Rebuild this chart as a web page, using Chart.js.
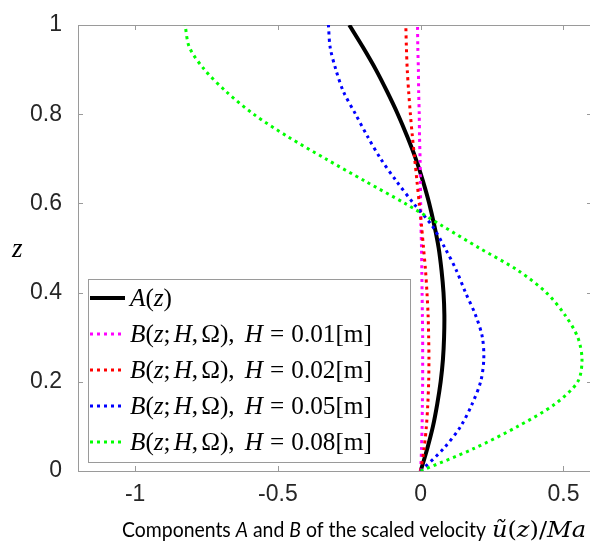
<!DOCTYPE html>
<html>
<head>
<meta charset="utf-8">
<script src="https://cdn.jsdelivr.net/npm/chart.js@4.4.1/dist/chart.umd.min.js"></script>
<style>
    html, body { margin: 0; padding: 0; background: #fff; overflow: hidden; }
    #contenedor { position: relative; width: 592px; height: 542px; }
</style>
</head>
<body>
<div id="contenedor"><canvas id="grafica"></canvas></div>
<script>
// valores, z de 0 a 1
const zVals = [0, 0.05, 0.1, 0.15, 0.2, 0.25, 0.3, 0.35, 0.4, 0.45, 0.5,
    0.55, 0.6, 0.65, 0.7, 0.75, 0.8, 0.85, 0.9, 0.95, 1];

// componente A(z) (linea negra)
const aVals = [0, 0.023, 0.043, 0.058, 0.07, 0.078, 0.082, 0.083, 0.08, 0.073, 0.063,
    0.048, 0.03, 0.008, -0.017, -0.047, -0.08, -0.117, -0.157, -0.202, -0.25];

// componente B para cada H
const bH001 = [0, 0.003, 0.005, 0.006, 0.007, 0.007, 0.007, 0.006, 0.005, 0.004, 0.003,
    0.001, 0, -0.001, -0.002, -0.004, -0.005, -0.007, -0.008, -0.01, -0.011];
const bH002 = [0, 0.012, 0.02, 0.025, 0.028, 0.029, 0.028, 0.026, 0.022, 0.017, 0.01,
    0.003, -0.005, -0.013, -0.021, -0.029, -0.036, -0.042, -0.047, -0.05, -0.052];
const bH005 = [0, 0.08, 0.14, 0.18, 0.21, 0.221, 0.216, 0.192, 0.157, 0.125, 0.085,
    0.04, -0.025, -0.085, -0.14, -0.186, -0.228, -0.27, -0.297, -0.317, -0.323];
const bH008 = [0, 0.185, 0.34, 0.47, 0.55, 0.565, 0.55, 0.505, 0.44, 0.34, 0.205,
    0.075, -0.055, -0.195, -0.333, -0.466, -0.585, -0.68, -0.757, -0.81, -0.825];

const serieLabels = ['A(z)', 'B(z;H,Ω), H = 0.01[m]', 'B(z;H,Ω), H = 0.02[m]',
    'B(z;H,Ω), H = 0.05[m]', 'B(z;H,Ω), H = 0.08[m]'];
const serieColores = ['#000000', '#ff00ff', '#ff0000', '#0000ff', '#00ff00'];

const xTicks = [-1, -0.5, 0, 0.5];
const yTicks = [0, 0.2, 0.4, 0.6, 0.8, 1];

const series = [aVals, bH001, bH002, bH005, bH008];

const colorEje = '#9a9a9a';
const fuenteSerif = '"Liberation Serif", serif';

// dibuja texto estilo LaTeX: letras en cursiva salvo dentro de [ ]
function dibujaLatex(ctx, texto, x, y, size, medir) {
    let dentro = false;
    let x0 = x;
    for (const c of texto) {
        if (c === '[') dentro = true;
        if (c === ' ') { x += 0.28 * size; continue; }
        const cursiva = /[A-Za-z]/.test(c) && !dentro;
        ctx.font = (cursiva ? 'italic ' : '') + size + 'px ' + fuenteSerif;
        if (!medir) ctx.fillText(c, x, y);
        x += ctx.measureText(c).width;
        if (c === ';' || c === ',') x += 0.12 * size;
        if (c === ']') dentro = false;
    }
    return x - x0;
}

// dibuja un trozo de texto (piezas [texto, fuente]) ajustado a un ancho
function dibujaTrozo(ctx, piezas, x, y, ancho) {
    const total = piezas.reduce((t, p) => { ctx.font = p[1]; return t + ctx.measureText(p[0]).width; }, 0);
    ctx.save();
    ctx.translate(x, y);
    ctx.scale(ancho / total, 1);
    let xx = 0;
    piezas.forEach(p => {
        ctx.font = p[1];
        ctx.fillText(p[0], xx, 0);
        xx += ctx.measureText(p[0]).width;
    });
    ctx.restore();
}

// caja de ejes con marcas hacia dentro (estilo matlab)
const cajaEjes = {
    id: 'cajaEjes',
    beforeDatasetsDraw(chart) {
        const { ctx, chartArea: a, scales } = chart;
        ctx.save();
        ctx.strokeStyle = colorEje;
        ctx.lineWidth = 1;
        ctx.strokeRect(Math.round(a.left) + 0.5, Math.round(a.top) + 0.5,
            Math.round(a.right - a.left), Math.round(a.bottom - a.top));
        ctx.beginPath();
        xTicks.forEach(v => {
            const px = Math.round(scales.x.getPixelForValue(v)) + 0.5;
            ctx.moveTo(px, a.bottom); ctx.lineTo(px, a.bottom - 5);
            ctx.moveTo(px, a.top); ctx.lineTo(px, a.top + 5);
        });
        yTicks.forEach(v => {
            const py = Math.round(scales.y.getPixelForValue(v)) + 0.5;
            ctx.moveTo(a.left, py); ctx.lineTo(a.left + 5, py);
            ctx.moveTo(a.right, py); ctx.lineTo(a.right - 5, py);
        });
        ctx.stroke();
        ctx.restore();
    },
    afterDatasetsDraw(chart) {
        // leyenda dentro del area, abajo a la izquierda
        const { ctx, chartArea: a } = chart;
        const ds = chart.data.datasets;
        const caja = { x: a.left + 10, w: 322, h: 183 };
        caja.y = a.bottom - 9 - caja.h;
        ctx.save();
        ctx.fillStyle = '#fff';
        ctx.fillRect(caja.x, caja.y, caja.w, caja.h);
        ctx.strokeStyle = colorEje;
        ctx.lineWidth = 1;
        ctx.strokeRect(Math.round(caja.x) + 0.5, Math.round(caja.y) + 0.5, caja.w, caja.h);

        // tamaño de letra ajustado al ancho de la etiqueta
        const ancho = dibujaLatex(ctx, ds[1].label, 0, 0, 24, true);
        const size = 24 * 242 / ancho;

        ds.forEach((d, i) => {
            const yy = caja.y + 19 + i * 36;
            ctx.strokeStyle = d.borderColor;
            ctx.lineWidth = d.borderWidth;
            ctx.setLineDash(d.borderDash || []);
            ctx.beginPath();
            ctx.moveTo(caja.x + 2, yy);
            ctx.lineTo(caja.x + 37, yy);
            ctx.stroke();
            ctx.setLineDash([]);
            ctx.fillStyle = '#000';
            ctx.textBaseline = 'middle';
            dibujaLatex(ctx, d.label, caja.x + 42, yy + 1, size, false);
        });
        ctx.restore();
    },
    afterDraw(chart) {
        const { ctx } = chart;
        ctx.save();
        ctx.fillStyle = '#000';
        ctx.textBaseline = 'alphabetic';
        // titulo eje y
        ctx.font = 'italic 27px ' + fuenteSerif;
        ctx.fillText('z', 12, 257);

        // titulo eje x: parte de texto (tipo calibri) y parte matematica
        const sans = '21px Lato', sansIt = 'italic 21px Lato';
        const mi = 'italic 23px "DejaVu Serif"', mr = '23px "DejaVu Serif"';
        dibujaTrozo(ctx, [['Components ', sans], ['A', sansIt], [' and ', sans], ['B', sansIt],
            [' of the scaled velocity', sans]], 122, 537, 364);
        dibujaTrozo(ctx, [['ũ', mi], ['(', mr], ['z', mi], [')', mr], ['/', mr], ['Ma', mi]],
            492, 537, 94);
        ctx.restore();
    }
};

const datasets = series.map((vals, i) => ({
    label: serieLabels[i],
    data: vals.map((v, k) => ({ x: v, y: zVals[k] })),
    borderColor: serieColores[i],
    borderWidth: i === 0 ? 4 : 3,
    borderDash: i === 0 ? [] : [3, 4],
    borderCapStyle: 'butt',
    pointRadius: 0,
    tension: 0.3,
    fill: false,
    order: series.length - 1 - i
}));

const etiquetaTick = { family: 'Liberation Sans', size: 23 };

new Chart(document.getElementById('grafica'), {
    type: 'line',
    data: { datasets },
    options: {
        responsive: true,
        maintainAspectRatio: false,
        animation: false,
        layout: { padding: { top: 25, right: 0, left: 0, bottom: 0 } },
        scales: {
            x: {
                type: 'linear',
                min: -1.2,
                max: 0.6,
                afterBuildTicks: s => { s.ticks = xTicks.map(v => ({ value: v })); },
                afterFit: s => { s.height = 71; },
                grid: { display: false },
                border: { display: false },
                ticks: { font: etiquetaTick, color: '#262626', padding: 2, maxRotation: 0, callback: v => String(v) }
            },
            y: {
                type: 'linear',
                min: 0,
                max: 1,
                afterBuildTicks: s => { s.ticks = yTicks.map(v => ({ value: v })); },
                afterFit: s => { s.width = 78; },
                grid: { display: false },
                border: { display: false },
                ticks: { font: etiquetaTick, color: '#262626', padding: 8, callback: v => String(v) }
            }
        },
        plugins: {
            legend: { display: false },
            tooltip: { enabled: false }
        }
    },
    plugins: [cajaEjes]
});
</script>
</body>
</html>
